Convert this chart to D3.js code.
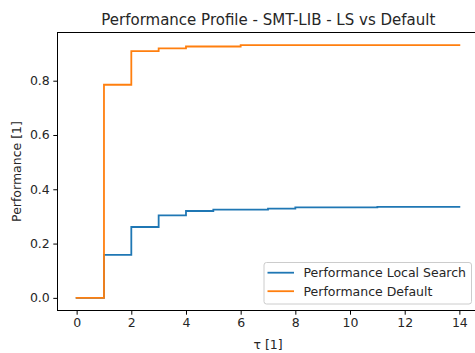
<!DOCTYPE html>
<html>
<head>
<meta charset="utf-8">
<script src="https://cdn.jsdelivr.net/npm/d3@7"></script>
<style>
  html, body { margin: 0; padding: 0; background: #fff; }
  svg { display: block; }
  text { font-family: "DejaVu Sans", sans-serif; fill: #262626; }
</style>
</head>
<body>
<svg id="chart" width="475" height="353"></svg>
<script>
const tau = [0, 1, 2, 3, 4, 5, 6, 7, 8, 9, 10, 11, 12, 13, 14];
const perfLocalSearch = [0, 0.158, 0.261, 0.304, 0.320, 0.325, 0.325, 0.329, 0.333, 0.333, 0.333, 0.335, 0.335, 0.335, 0.335];
const perfDefault = [0, 0.785, 0.909, 0.919, 0.926, 0.926, 0.931, 0.931, 0.931, 0.931, 0.931, 0.931, 0.931, 0.931, 0.931];
const xTicks = [0, 2, 4, 6, 8, 10, 12, 14];
const yTicks = [0.0, 0.2, 0.4, 0.6, 0.8];
const seriesNames = ["Performance Local Search", "Performance Default"];
const seriesColors = ["#1f77b4", "#ff7f0e"];

const svg = d3.select("#chart");
const pl = 57.5, pr = 478.5, pt = 32.5, pb = 310.5;
const fs = 12.5;

const x = d3.scaleLinear().domain([-0.7, 14.7]).range([pl, pr]);
const y = d3.scaleLinear().domain([-0.04655, 0.97755]).range([pb, pt]);

// axes frame
svg.append("rect")
  .attr("x", pl).attr("y", pt)
  .attr("width", pr - pl).attr("height", pb - pt)
  .attr("fill", "none").attr("stroke", "#000").attr("stroke-width", 1);

const xAxis = svg.append("g").attr("transform", `translate(0,${pb})`)
  .call(d3.axisBottom(x).tickValues(xTicks).tickFormat(d3.format("d")).tickSize(4.2).tickPadding(3.5));
const yAxis = svg.append("g").attr("transform", `translate(${pl},0)`)
  .call(d3.axisLeft(y).tickValues(yTicks).tickFormat(d3.format(".1f")).tickSize(4.2).tickPadding(3.5));
[xAxis, yAxis].forEach(g => {
  g.select(".domain").remove();
  g.selectAll(".tick line").attr("stroke", "#000").attr("stroke-width", 1);
  g.selectAll(".tick text").attr("font-size", fs).attr("font-family", "DejaVu Sans").attr("fill", "#262626");
});

const line = d3.line().x((d, i) => x(tau[i])).y(d => y(d)).curve(d3.curveStepAfter);
svg.append("clipPath").attr("id", "clip").append("rect")
  .attr("x", pl).attr("y", pt).attr("width", pr - pl).attr("height", pb - pt);

[perfLocalSearch, perfDefault].forEach((s, k) => {
  svg.append("path").datum(s)
    .attr("d", line)
    .attr("fill", "none")
    .attr("stroke", seriesColors[k])
    .attr("stroke-width", 1.8)
    .attr("stroke-linejoin", "miter")
    .attr("stroke-linecap", "square")
    .attr("clip-path", "url(#clip)");
});

// title and labels
svg.append("text").attr("x", 268.3).attr("y", 25)
  .attr("text-anchor", "middle").attr("font-size", 15)
  .text("Performance Profile - SMT-LIB - LS vs Default");
svg.append("text").attr("x", 268).attr("y", 349)
  .attr("text-anchor", "middle").attr("font-size", fs)
  .text("τ [1]");
svg.append("text")
  .attr("transform", `translate(21,${(pt + pb) / 2}) rotate(-90)`)
  .attr("text-anchor", "middle").attr("font-size", fs)
  .text("Performance [1]");

// legend
const lg = svg.append("g");
lg.append("rect").attr("x", 264).attr("y", 262.5).attr("width", 207.5).attr("height", 41.5)
  .attr("rx", 2.5).attr("fill", "#fff").attr("fill-opacity", 0.8)
  .attr("stroke", "#cccccc").attr("stroke-width", 1);
seriesNames.forEach((name, i) => {
  const yy = 272.7 + i * 18.5;
  lg.append("line").attr("x1", 267.5).attr("x2", 294).attr("y1", yy).attr("y2", yy)
    .attr("stroke", seriesColors[i]).attr("stroke-width", 1.8);
  lg.append("text").attr("x", 303.5).attr("y", yy + 4.5).attr("font-size", fs).text(name);
});
</script>
</body>
</html>
